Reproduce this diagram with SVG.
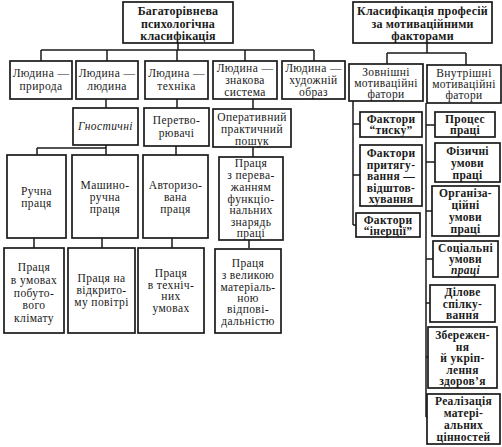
<svg xmlns="http://www.w3.org/2000/svg" width="502" height="447" viewBox="0 0 502 447">
<style>
rect{fill:#fff;stroke:#1a1a1a;stroke-width:1.7}
.c path{fill:none;stroke:#1a1a1a;stroke-width:1.5}
text{font-family:"Liberation Serif","Times New Roman",serif;font-size:11.5px;letter-spacing:0.4px;fill:#1a1a1a;text-anchor:middle}
.t{font-weight:bold;font-size:12px;letter-spacing:0.2px}
.b{font-weight:bold;font-size:11.5px;letter-spacing:0.3px}
.i{font-style:italic}
</style>
<rect x="0" y="0" width="502" height="447" style="fill:#fff;stroke:none"/>
<g class="c">
<path d="M178 43V50M41 50H314M41 50V61M107 50V61M177 50V61M245 50V61M314 50V61"/>
<path d="M106 99V108M177 99V108M253 99V109"/>
<path d="M106 145V155M37 148H106M37 148V155M176 146V155M253 147V157"/>
<path d="M34 238V248M102 238V248M172 238V248M249 240V248"/>
<path d="M427 43V53M387 53H466M387 53V64M466 53V65"/>
<path d="M353 101V225M353 124H360M353 175H360M353 225H356"/>
<path d="M426 103V417M426 125H435M426 162H435M426 211H432M426 259H433M426 303H430M426 357H428M426 417H427"/>
</g>
<g id="n-t1"><rect x="123" y="2" width="110" height="41"/><text class="t" x="178" y="15">Багаторівнева</text><text class="t" x="178" y="27.5">психологічна</text><text class="t" x="178" y="40">класифікація</text></g>
<g id="n-a1"><rect x="10" y="61" width="62" height="38"/><text x="41" y="77">Людина —</text><text x="41" y="90">природа</text></g>
<g id="n-a2"><rect x="76" y="61" width="62" height="38"/><text x="107" y="77">Людина —</text><text x="107" y="90">людина</text></g>
<g id="n-a3"><rect x="145" y="61" width="63" height="38"/><text x="176.5" y="77">Людина —</text><text x="176.5" y="90">техніка</text></g>
<g id="n-a4"><rect x="213" y="61" width="64" height="38"/><text x="245" y="72">Людина —</text><text x="245" y="84">знакова</text><text x="245" y="96">система</text></g>
<g id="n-a5"><rect x="282" y="61" width="63" height="38"/><text x="313.5" y="72">Людина —</text><text x="313.5" y="84">художній</text><text x="313.5" y="96">образ</text></g>
<g id="n-g"><rect x="73" y="108" width="65" height="37"/><text class="i" x="105.5" y="130">Гностичні</text></g>
<g id="n-p"><rect x="144" y="108" width="65" height="38"/><text x="176.5" y="124">Перетво-</text><text x="176.5" y="137">рювачі</text></g>
<g id="n-o"><rect x="213" y="109" width="78" height="38"/><text x="252" y="121">Оперативний</text><text x="252" y="133">практичний</text><text x="252" y="145">пошук</text></g>
<g id="n-r1"><rect x="7" y="155" width="59" height="83"/><text x="36.5" y="195">Ручна</text><text x="36.5" y="207">праця</text></g>
<g id="n-r2"><rect x="72" y="155" width="66" height="83"/><text x="105" y="189">Машино-</text><text x="105" y="201">ручна</text><text x="105" y="213">праця</text></g>
<g id="n-r3"><rect x="143" y="155" width="65" height="83"/><text x="175.5" y="189">Авторизо-</text><text x="175.5" y="201">вана</text><text x="175.5" y="213">праця</text></g>
<g id="n-r4"><rect x="219" y="157" width="64" height="83"/><text x="251" y="167">Праця</text><text x="251" y="179">з перева-</text><text x="251" y="191">жанням</text><text x="251" y="203">функціо-</text><text x="251" y="214">нальних</text><text x="251" y="226">знарядь</text><text x="251" y="237">праці</text></g>
<g id="n-s1"><rect x="4" y="248" width="60" height="85"/><text x="34" y="271">Праця</text><text x="34" y="284">в умовах</text><text x="34" y="297">побуто-</text><text x="34" y="309">вого</text><text x="34" y="322">клімату</text></g>
<g id="n-s2"><rect x="68" y="248" width="67" height="85"/><text x="101.5" y="282">Праця на</text><text x="101.5" y="294">відкрито-</text><text x="101.5" y="306">му повітрі</text></g>
<g id="n-s3"><rect x="138" y="248" width="66" height="85"/><text x="171" y="277">Праця</text><text x="171" y="289">в техніч-</text><text x="171" y="300">них</text><text x="171" y="312">умовах</text></g>
<g id="n-s4"><rect x="215" y="249" width="66" height="84"/><text x="248" y="267">Праця</text><text x="248" y="279">з великою</text><text x="248" y="291">матеріаль-</text><text x="248" y="302">ною</text><text x="248" y="313">відпові-</text><text x="248" y="325">дальністю</text></g>
<g id="n-t2"><rect x="353" y="2" width="139" height="41"/><text class="t" x="422.5" y="15">Класифікація професій</text><text class="t" x="422.5" y="27.5">за мотиваційними</text><text class="t" x="422.5" y="40">факторами</text></g>
<g id="n-z"><rect x="349" y="64" width="74" height="37"/><text x="386" y="76">Зовнішні</text><text x="386" y="87">мотиваційні</text><text x="386" y="98">фатори</text></g>
<g id="n-v"><rect x="427" y="65" width="74" height="38"/><text x="464" y="77">Внутрішні</text><text x="464" y="88">мотиваційні</text><text x="464" y="99">фатори</text></g>
<g id="n-f1"><rect x="360" y="112" width="62" height="25"/><text class="b" x="391" y="123">Фактори</text><text class="b" x="391" y="134">“тиску”</text></g>
<g id="n-f2"><rect x="360" y="145" width="62" height="61"/><text class="b" x="391" y="157">Фактори</text><text class="b" x="391" y="169">притягу-</text><text class="b" x="391" y="180">вання —</text><text class="b" x="391" y="192">відштов-</text><text class="b" x="391" y="203">хування</text></g>
<g id="n-f3"><rect x="356" y="213" width="64" height="24"/><text class="b" x="388" y="224">Фактори</text><text class="b" x="388" y="235">“інерції”</text></g>
<g id="n-m1"><rect x="435" y="112" width="60" height="25"/><text class="b" x="465" y="123">Процес</text><text class="b" x="465" y="134">праці</text></g>
<g id="n-m2"><rect x="435" y="143" width="65" height="39"/><text class="b" x="467.5" y="155">Фізичні</text><text class="b" x="467.5" y="167">умови</text><text class="b" x="467.5" y="179">праці</text></g>
<g id="n-m3"><rect x="432" y="186" width="67" height="50"/><text class="b" x="465.5" y="197">Організа-</text><text class="b" x="465.5" y="209">ційні</text><text class="b" x="465.5" y="221">умови</text><text class="b" x="465.5" y="233">праці</text></g>
<g id="n-m4"><rect x="433" y="241" width="65" height="36"/><text class="b" x="465.5" y="252">Соціальні</text><text class="b" x="465.5" y="263">умови</text><text class="b i" x="465.5" y="274">праці</text></g>
<g id="n-m5"><rect x="430" y="285" width="65" height="37"/><text class="b" x="462.5" y="296">Ділове</text><text class="b" x="462.5" y="308">спілку-</text><text class="b" x="462.5" y="319">вання</text></g>
<g id="n-m6"><rect x="428" y="327" width="69" height="61"/><text class="b" x="462.5" y="339">Збережен-</text><text class="b" x="462.5" y="351">ня</text><text class="b" x="462.5" y="362">й укріп-</text><text class="b" x="462.5" y="374">лення</text><text class="b" x="462.5" y="385">здоров’я</text></g>
<g id="n-m7"><rect x="427" y="394" width="73" height="50"/><text class="b" x="463.5" y="405">Реалізація</text><text class="b" x="463.5" y="417">матері-</text><text class="b" x="463.5" y="429">альних</text><text class="b" x="463.5" y="441">цінностей</text></g>
</svg>
